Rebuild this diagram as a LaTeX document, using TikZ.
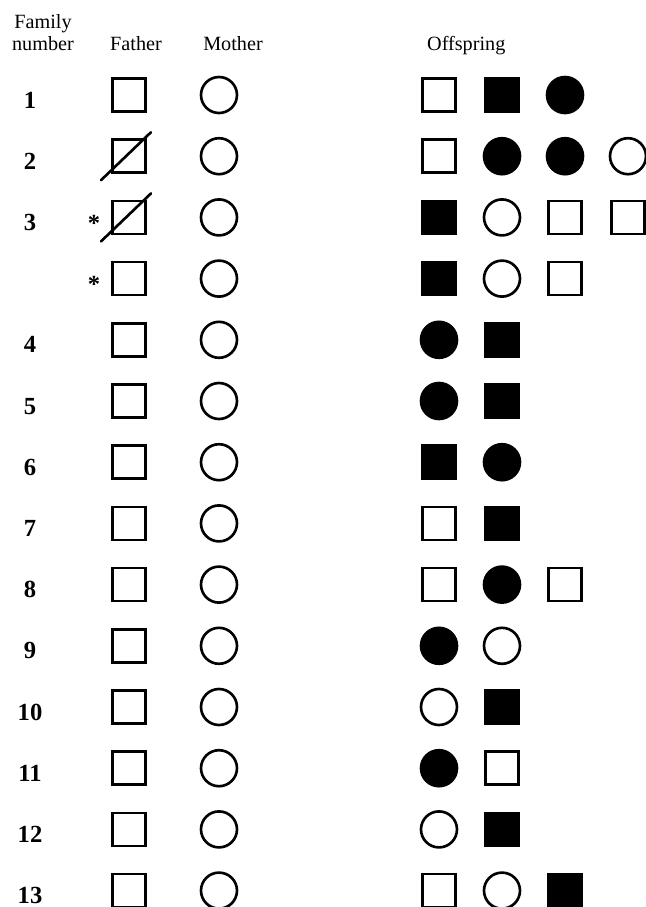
\documentclass[tikz,border=0pt]{standalone}
\usepackage{fontspec}
\setmainfont{Liberation Serif}
\usepackage{tikz}
\usetikzlibrary{positioning}

\begin{document}
\begin{tikzpicture}[
    x=0.02cm, y=-0.02cm,
    font=\fontsize{11.5}{13}\selectfont,
    sym/.style={line width=1.5pt, inner sep=0pt, outer sep=0pt},
    male/.style={sym, draw, rectangle, minimum size=0.66cm},
    female/.style={sym, draw, circle, minimum size=0.72cm},
    amale/.style={male, fill=black},
    afemale/.style={female, fill=black},
    famno/.style={anchor=base, font=\fontsize{14}{16}\selectfont\bfseries},
    head/.style={anchor=base},
    star/.style={anchor=base, font=\fontsize{14}{16}\selectfont\bfseries}
]
\useasboundingbox (0,0) rectangle (646,907);

% Column headings
\node[head] (hnum) at (43,50) {number};
\node[head] (hfam) at (43,28) {Family};
\node[head] (hfa) at (136,50) {Father};
\node[head] (hmo) at (233,50) {Mother};
\node[head, anchor=base west] (hof) at (421,50) {Offspring};

% Parents, one row per family
\foreach \k/\n in {0/1, 1/2, 2/3, 3/{}, 4/4, 5/5, 6/6, 7/7, 8/8, 9/9, 10/10, 11/11, 12/12, 13/13} {
  \pgfmathsetmacro{\y}{95+61.2*\k}
  \node[famno] (no\k) at (30,\y+13) {\n};
  \node[male] (fa\k) at (129,\y) {};
  \node[female] (mo\k) at (219,\y) {};
}

% Deceased fathers
\foreach \k in {1,2}
  \draw[sym, line cap=round] ([shift={(-28,24)}]fa\k.center) -- ([shift={(22,-24)}]fa\k.center);

% Asterisks
\node[star] (st2) at (94,{95+61.2*2+14}) {*};
\node[star] (st3) at (94,{95+61.2*3+14}) {*};

% Offspring
\foreach \k/\c/\s in {0/0/male, 0/1/amale, 0/2/afemale,
                      1/0/male, 1/1/afemale, 1/2/afemale, 1/3/female,
                      2/0/amale, 2/1/female, 2/2/male, 2/3/male,
                      3/0/amale, 3/1/female, 3/2/male,
                      4/0/afemale, 4/1/amale,
                      5/0/afemale, 5/1/amale,
                      6/0/amale, 6/1/afemale,
                      7/0/male, 7/1/amale,
                      8/0/male, 8/1/afemale, 8/2/male,
                      9/0/afemale, 9/1/female,
                      10/0/female, 10/1/amale,
                      11/0/afemale, 11/1/male,
                      12/0/female, 12/1/amale,
                      13/0/male, 13/1/female, 13/2/amale}
  \node[\s] (of\k-\c) at ({439+63*\c},{95+61.2*\k}) {};

\end{tikzpicture}
\end{document}
